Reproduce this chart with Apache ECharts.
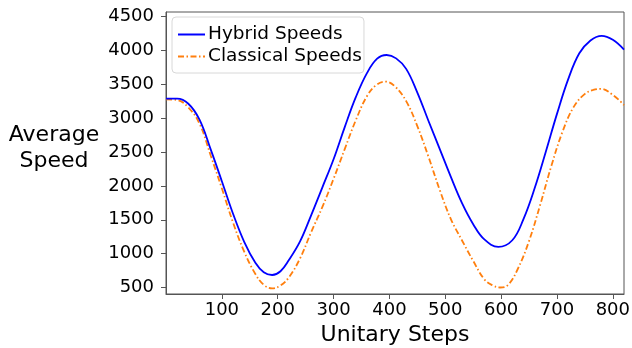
<!DOCTYPE html>
<html>
<head>
<meta charset="utf-8">
<script src="https://cdn.jsdelivr.net/npm/echarts@6/dist/echarts.min.js"></script>
<style>
  html, body { margin: 0; padding: 0; background: #fff; }
  #chart { width: 632px; height: 348px; }
</style>
</head>
<body>
<div id="chart"></div>
<script>
// Hybrid scheme: unitary steps and the average speed measured there
const hybridSteps = [0, 20, 40, 60, 80, 100, 120, 140, 160, 175, 190, 205, 220, 240, 260, 280,
  300, 320, 340, 360, 378, 395, 412, 430, 450, 470, 490, 510, 530, 550, 570, 595, 620,
  640, 660, 680, 700, 720, 740, 760, 780, 800, 820];
const hybridSpeeds = [3290, 3290, 3215, 2980, 2540, 2070, 1590, 1175, 865, 725, 685, 740, 905,
  1180, 1570, 1980, 2395, 2870, 3315, 3670, 3880, 3935, 3885, 3730, 3380, 2960, 2548, 2134,
  1746, 1435, 1210, 1100, 1198, 1510, 1965, 2505, 3065, 3575, 3960, 4150, 4218, 4160, 4015];

// Classical scheme: unitary steps and the average speed measured there
const classicalSteps = [0, 20, 40, 60, 80, 100, 120, 140, 160, 175, 190, 205, 220, 240, 260,
  280, 300, 320, 340, 360, 377, 393, 410, 430, 450, 470, 490, 510, 530, 550, 570, 585, 598,
  612, 630, 650, 670, 690, 710, 730, 750, 765, 778, 800, 820];
const classicalSpeeds = [3280, 3270, 3160, 2920, 2450, 1965, 1460, 1030, 700, 540, 488, 530,
  650, 930, 1320, 1690, 2105, 2545, 2975, 3330, 3495, 3542, 3470, 3253, 2884, 2430, 1943,
  1511, 1195, 893, 620, 530, 500, 535, 777, 1187, 1723, 2298, 2803, 3169, 3360, 3418, 3435,
  3345, 3195];

const xTicks = [100, 200, 300, 400, 500, 600, 700, 800];
const yTicks = [500, 1000, 1500, 2000, 2500, 3000, 3500, 4000, 4500];

const seriesNames = ['Hybrid Speeds', 'Classical Speeds'];

const pairs = (xs, ys) => xs.map((x, i) => [x, ys[i]]);

const FONT = 'DejaVu Sans';
const AXIS = '#555';

const chart = echarts.init(document.getElementById('chart'), null, { renderer: 'canvas' });

chart.setOption({
  animation: false,
  backgroundColor: '#fff',
  textStyle: { fontFamily: FONT },
  grid: {
    left: 166, right: 8, top: 12, bottom: 54,
    outerBoundsMode: 'none',
    containLabel: false,
    show: true, borderColor: AXIS, borderWidth: 1, backgroundColor: 'transparent'
  },
  legend: {
    data: seriesNames,
    orient: 'vertical',
    left: 172, top: 17,
    itemWidth: 27, itemHeight: 14, itemGap: 3,
    padding: [8, 2, 7, 5],
    backgroundColor: '#fff',
    borderColor: '#d8d8d8', borderWidth: 1, borderRadius: 4,
    itemStyle: { color: 'transparent', borderWidth: 0 },
    textStyle: { fontFamily: FONT, fontSize: 18.5, color: '#000', padding: [0, 0, 0, -2] }
  },
  xAxis: {
    type: 'value',
    min: 0, max: 820,
    name: 'Unitary Steps',
    nameLocation: 'middle',
    nameGap: 30,
    nameTextStyle: { fontFamily: FONT, fontSize: 22, color: '#000' },
    splitLine: { show: false },
    axisLine: { show: true, lineStyle: { color: AXIS, width: 1 } },
    axisTick: { show: true, length: 5, lineStyle: { color: AXIS }, customValues: xTicks },
    axisLabel: { fontFamily: FONT, fontSize: 18, color: '#000', margin: 7, customValues: xTicks,
      formatter: (v) => String(v) }
  },
  yAxis: {
    type: 'value',
    min: 404, max: 4570,
    splitLine: { show: false },
    axisLine: { show: true, lineStyle: { color: AXIS, width: 1 } },
    axisTick: { show: true, length: 5, lineStyle: { color: AXIS }, customValues: yTicks },
    axisLabel: { fontFamily: FONT, fontSize: 18, color: '#000', margin: 12, customValues: yTicks,
      formatter: (v) => String(v) }
  },
  graphic: [{
    type: 'text',
    x: 54,
    y: 148,
    style: {
      text: 'Average\nSpeed',
      fontFamily: FONT,
      fontSize: 22,
      lineHeight: 26,
      align: 'center',
      verticalAlign: 'middle',
      fill: '#000'
    }
  }],
  series: [
    {
      name: seriesNames[0],
      type: 'line',
      data: pairs(hybridSteps, hybridSpeeds),
      smooth: 0.4,
      symbol: 'none',
      lineStyle: { color: '#0000ff', width: 1.8 },
      itemStyle: { color: '#0000ff' },
      z: 3
    },
    {
      name: seriesNames[1],
      type: 'line',
      data: pairs(classicalSteps, classicalSpeeds),
      smooth: 0.4,
      symbol: 'none',
      lineStyle: { color: '#ff7f0e', width: 1.8, type: [6, 2.5, 1.5, 2.5] },
      itemStyle: { color: '#ff7f0e' },
      z: 2
    }
  ]
});
</script>
</body>
</html>
